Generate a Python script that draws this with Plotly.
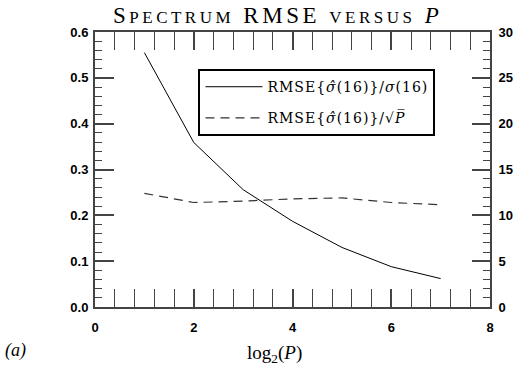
import plotly.graph_objects as go

log2P = [1, 2, 3, 4, 5, 6, 7]
rmse_rel = [0.555, 0.359, 0.256, 0.187, 0.130, 0.088, 0.062]
rmse_sqrtp = [12.4, 11.4, 11.55, 11.8, 11.9, 11.4, 11.15]

left_ticks = [0.0, 0.1, 0.2, 0.3, 0.4, 0.5, 0.6]
left_labels = ["0.0", "0.1", "0.2", "0.3", "0.4", "0.5", "0.6"]
right_ticks = [0, 5, 10, 15, 20, 25, 30]
right_labels = ["0", "5", "10", "15", "20", "25", "30"]
x_ticks = [0, 2, 4, 6, 8]

serif = "Liberation Serif"
legserif = "DejaVu Serif"
tickfont = dict(family="Liberation Sans", size=13, color="black", weight="bold")
axcol = "#444444"
ls = "letter-spacing:1px"

fig = go.Figure()
fig.add_trace(go.Scatter(
    x=log2P, y=rmse_rel, mode="lines",
    line=dict(color="black", width=1),
    name=f"<span style='{ls}'>RMSE{{<i>σ̂</i>(16)}}/<i>σ</i>(16)</span>", legendgroup="a"))
fig.add_trace(go.Scatter(
    x=log2P, y=rmse_sqrtp, mode="lines", yaxis="y2",
    line=dict(color="#333333", width=1.2, dash="9px,6px"),
    name=f"<span style='{ls}'>RMSE{{<i>σ̂</i>(16)}}/√<i>P̅</i></span>", legendgroup="b"))

fig.update_layout(
    width=521, height=374,
    margin=dict(l=95, r=31, t=32, b=67, autoexpand=False),
    paper_bgcolor="white", plot_bgcolor="rgba(0,0,0,0)",
    showlegend=True,
    legend=dict(x=0.262, y=0.865, xanchor="left", yanchor="top",
                bordercolor="black", borderwidth=2,
                font=dict(family=legserif, size=14, color="black"),
                tracegroupgap=10, traceorder="grouped", itemwidth=57,
                bgcolor="white"),
    xaxis=dict(range=[0, 8], tickmode="array", tickvals=x_ticks, ticks="inside", ticklen=18,
               tickcolor=axcol, tickwidth=1.5, automargin=False,
               showline=True, linecolor=axcol, linewidth=2, mirror="allticks",
               showgrid=False, zeroline=False, tickfont=tickfont,
               ticklabelstandoff=7,
               minor=dict(dtick=0.4, tick0=0, ticks="inside", ticklen=7, tickcolor=axcol,
                          tickwidth=1.2, showgrid=False)),
    yaxis=dict(range=[0, 0.6], tickmode="array", tickvals=left_ticks, ticktext=left_labels,
               ticks="inside", ticklen=19, tickcolor=axcol, tickwidth=1.5, automargin=False,
               showline=True, linecolor=axcol, linewidth=2,
               showgrid=False, zeroline=False, tickfont=tickfont,
               ticklabelstandoff=2,
               minor=dict(dtick=0.02, tick0=0, ticks="inside", ticklen=7, tickcolor=axcol,
                          tickwidth=1.2, showgrid=False)),
    yaxis2=dict(range=[0, 30], overlaying="y", side="right", tickmode="array",
                tickvals=right_ticks, ticktext=right_labels, automargin=False,
                ticks="inside", ticklen=18, tickcolor=axcol, tickwidth=1.5,
                showline=True, linecolor=axcol, linewidth=2,
                showgrid=False, zeroline=False, tickfont=tickfont,
                ticklabelstandoff=4,
                minor=dict(dtick=1, tick0=0, ticks="inside", ticklen=7, tickcolor=axcol,
                           tickwidth=1.2, showgrid=False)),
)

big = "font-size:23px;letter-spacing:3.5px"
small = "font-size:17px;letter-spacing:3.5px"
title_text = (f"<span style='{big}'>S</span><span style='{small}'>PECTRUM</span>"
              f"<span style='{big}'> RMSE </span><span style='{small}'>VERSUS</span>"
              f"<span style='{big}'> <i>P</i></span>")
fig.add_annotation(text=title_text, xref="paper", yref="paper", x=0.463, y=1.0,
                   xanchor="center", yanchor="bottom", yshift=2, showarrow=False,
                   font=dict(family=serif, size=23, color="black"))
fig.add_annotation(text="log<sub>2</sub>(<i>P</i>)", xref="paper", yref="paper",
                   x=0.455, y=0, yshift=-47, xanchor="center", yanchor="middle",
                   showarrow=False, font=dict(family=serif, size=19, color="black"))
fig.add_annotation(text="<i>(a)</i>", xref="paper", yref="paper",
                   x=-0.232, y=0, yshift=-43, xanchor="left", yanchor="middle",
                   showarrow=False, font=dict(family=serif, size=18, color="black"))

fig.write_html("out.html")
